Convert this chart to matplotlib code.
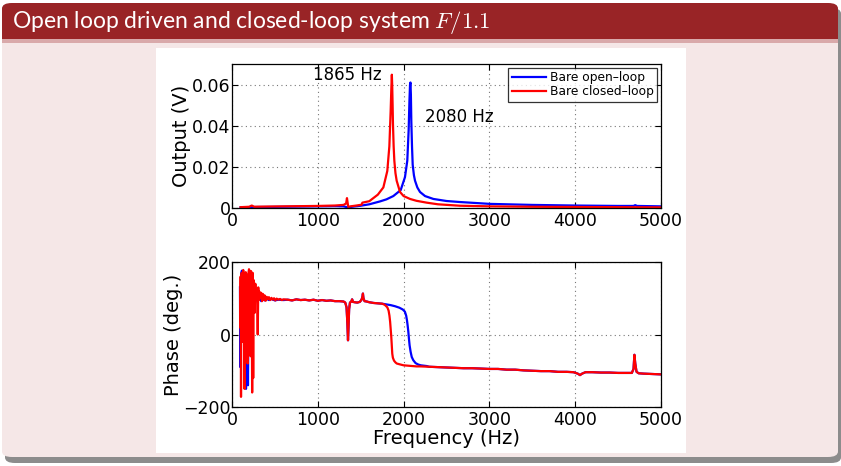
import numpy as np
import matplotlib
matplotlib.use('Agg')
import matplotlib.pyplot as plt
from matplotlib.patches import FancyBboxPatch, Rectangle

plt.rcParams['mathtext.fontset'] = 'cm'

# magnitude, open loop (blue)
f_mag_open = [100, 200, 300, 400, 600, 800, 1000, 1200, 1300, 1340,
              1360, 1400, 1500, 1600, 1725, 1800, 1880, 1966, 2016, 2043,
              2059, 2068, 2075, 2080, 2085, 2090, 2098, 2106, 2120, 2133,
              2160, 2191, 2250, 2347, 2500, 2657, 3007, 3500, 4000, 4500,
              4680, 4700, 4720, 5000]
mag_open = [0.0003, 0.0004, 0.0005, 0.0005, 0.0006, 0.0007, 0.0008, 0.0009, 0.0008, 0.0004,
            0.0003, 0.0006, 0.0011, 0.0018, 0.0032, 0.0042, 0.0058, 0.0087, 0.015, 0.023,
            0.038, 0.052, 0.060, 0.061, 0.055, 0.042, 0.030, 0.021, 0.016, 0.0133,
            0.0100, 0.0078, 0.0058, 0.0044, 0.0034, 0.0029, 0.0020, 0.0015, 0.0012, 0.0010,
            0.0010, 0.0014, 0.0010, 0.0008]

# magnitude, closed loop (red)
f_mag_closed = [100, 200, 230, 260, 400, 600, 800, 1000, 1200, 1300,
                1330, 1340, 1346, 1355, 1380, 1450, 1510, 1520, 1600, 1647,
                1700, 1764, 1810, 1834, 1849, 1857, 1863, 1867, 1872, 1876,
                1884, 1892, 1905, 1919, 1958, 2000, 2075, 2150, 2269, 2400,
                2657, 3000, 3500, 4000, 4500, 5000]
mag_closed = [0.0004, 0.0006, 0.0012, 0.0006, 0.0007, 0.0008, 0.0009, 0.0010, 0.0012, 0.0015,
              0.0022, 0.0048, 0.0030, 0.0005, 0.0008, 0.0012, 0.0016, 0.0026, 0.0033, 0.0048,
              0.0065, 0.010, 0.018, 0.030, 0.047, 0.058, 0.0648, 0.060, 0.050, 0.041,
              0.030, 0.023, 0.017, 0.0133, 0.0078, 0.0058, 0.0044, 0.0035, 0.0026, 0.0018,
              0.0011, 0.0008, 0.0006, 0.0005, 0.0004, 0.0003]

# phase, low frequency noisy part
f_low_open = [93, 97, 102, 108, 115, 122, 130, 138, 146, 155,
              163, 170, 178, 186, 195, 205, 215, 225, 235, 250,
              265, 280, 300, 320, 340, 360, 380, 400, 430, 460,
              500, 540, 600]
ph_low_open = [130, -90, 120, 170, 176, 174, 172, 170, 150, 120,
               -150, 100, 150, -140, 160, 130, 110, 150, 100, 140,
               95, 120, 90, 110, 92, 105, 94, 100, 95, 98,
               94, 96, 95]
f_low_closed = [97, 101, 105, 109, 113, 117, 121, 126, 131, 136,
                141, 146, 150, 155, 160, 165, 170, 176, 182, 187,
                192, 198, 204, 210, 216, 222, 228, 235, 241, 247,
                253, 259, 265, 272, 279, 286, 293, 300, 306, 312,
                320, 330, 340, 350, 360, 370, 380, 392, 405, 418,
                430, 445, 460, 475, 490, 505, 520, 540, 560, 580,
                600]
ph_low_closed = [20, 160, -172, 150, 170, 100, -20, 165, 178, 120,
                 40, -150, 80, 170, 172, 150, 60, 165, -80, 140,
                 170, 180, 175, 120, -60, 175, 160, -160, 170, -120,
                 150, 130, 60, 140, 100, 125, 110, 0, 130, 95,
                 118, 100, 115, 92, 112, 96, 108, 93, 104, 97,
                 103, 95, 101, 96, 100, 94, 99, 96, 98, 95,
                 97]

# phase, shared middle part
f_mid = [650, 700, 750, 800, 850, 900, 950, 1000, 1050, 1100,
         1150, 1200, 1250, 1300, 1320, 1335, 1345, 1352, 1358, 1365,
         1375, 1390, 1400, 1410, 1430, 1460, 1490, 1510, 1520, 1526,
         1532, 1545, 1570, 1600, 1650, 1700, 1750]
ph_mid = [96, 94, 97, 95, 96, 94, 96, 93, 95, 93,
          94, 92, 92, 91, 88, 75, 30, -16, 20, 70,
          88, 91, 97, 90, 89, 88, 90, 96, 104, 113,
          100, 92, 91, 89, 87, 86, 85]

# phase around the resonances
f_res_open = [1800, 1850, 1900, 1950, 1990, 2015, 2030, 2040, 2047, 2055,
              2062, 2070, 2082, 2095, 2113, 2140, 2172, 2200, 2269]
ph_res_open = [83, 81, 78, 74, 69, 63, 52, 38, 25, 8,
               -11, -30, -48, -62, -71, -79, -83, -85, -87]
f_res_closed = [1780, 1810, 1825, 1835, 1843, 1850, 1856, 1862, 1868, 1875,
                1888, 1905, 1920, 1950, 2000, 2050, 2100, 2150, 2200]
ph_res_closed = [82, 75, 66, 52, 35, 15, -5, -30, -53, -64,
                 -72, -77, -80, -82, -85, -86, -87, -88, -88]

# phase, shared high frequency tail
f_tail = [2300, 2400, 2500, 2600, 2700, 2800, 2900, 3000, 3100, 3200,
          3300, 3400, 3500, 3600, 3700, 3800, 3900, 3980, 4030, 4056,
          4080, 4120, 4200, 4300, 4400, 4500, 4600, 4660, 4680, 4690,
          4700, 4715, 4740, 4800, 4900, 5000]
ph_tail = [-89, -90, -91, -92, -93, -93, -94, -95, -95, -97,
           -97, -99, -100, -101, -101, -103, -103, -104, -108, -112,
           -108, -104, -104, -105, -105, -106, -106, -106, -95, -56,
           -80, -103, -107, -108, -109, -110]

fo = f_low_open + f_mid + f_res_open + f_tail
po = ph_low_open + ph_mid + ph_res_open + ph_tail
fc = f_low_closed + f_mid + f_res_closed + f_tail
pc = ph_low_closed + ph_mid + ph_res_closed + ph_tail

W, H = 841, 466
fig = plt.figure(figsize=(W / 100, H / 100), dpi=100)
fig.patch.set_facecolor('white')

def px(x, y, w, h):
    # pixel box (top-left origin) -> figure fraction
    return x / W, 1 - (y + h) / H, w / W, h / H

# block shadow, body and title bar
x, y, w, h = px(5, 8, 836, 455)
fig.patches.append(FancyBboxPatch((x, y), w, h, boxstyle='round,pad=0,rounding_size=0.012',
                                  transform=fig.transFigure, fc='#8c8c8c', ec='none', zorder=0))
x, y, w, h = px(2, 3, 836, 454)
fig.patches.append(FancyBboxPatch((x, y), w, h, boxstyle='round,pad=0,rounding_size=0.012',
                                  transform=fig.transFigure, fc='#f5e7e7', ec='none', zorder=1))
x, y, w, h = px(2, 3, 836, 38)
fig.patches.append(FancyBboxPatch((x, y), w, h, boxstyle='round,pad=0,rounding_size=0.012',
                                  transform=fig.transFigure, fc='#992426', ec='none', zorder=2))
x, y, w, h = px(2, 25, 836, 14)
fig.patches.append(Rectangle((x, y), w, h, transform=fig.transFigure, fc='#992426', ec='none', zorder=2))
x, y, w, h = px(2, 39, 836, 4)
fig.patches.append(Rectangle((x, y), w, h, transform=fig.transFigure, fc='#d9a9aa', ec='none', zorder=2))
x, y, w, h = px(156, 48, 530, 405)
fig.patches.append(Rectangle((x, y), w, h, transform=fig.transFigure, fc='white', ec='none', zorder=3))

fig.text(12 / W, 1 - 22 / H, 'Open loop driven and closed-loop system $F/1.1$',
         color='white', fontsize=16.5, family='Lato', va='center', ha='left')

ax1 = fig.add_axes(px(232, 64, 429, 144))
ax2 = fig.add_axes(px(232, 262, 429, 145))

ax1.plot(f_mag_open, mag_open, color='#0000ff', lw=1.6, label='Bare open\u2013loop')
ax1.plot(f_mag_closed, mag_closed, color='#ff0000', lw=1.6, label='Bare closed\u2013loop')
ax1.set_xlim(0, 5000)
ax1.set_ylim(0, 0.07)
ax1.set_yticks([0, 0.02, 0.04, 0.06])
ax1.set_yticklabels(['0', '0.02', '0.04', '0.06'])
ax1.set_ylabel('Output (V)', fontsize=14, labelpad=1)
ax1.text(1865, 0.0605, '1865 Hz  ', ha='right', va='bottom', fontsize=12)
ax1.text(2250, 0.040, '2080 Hz', ha='left', va='bottom', fontsize=12)
leg = ax1.legend(loc='upper right', fontsize=8.8, frameon=True, fancybox=False,
                 borderaxespad=0.3, handlelength=2.8, handletextpad=0.3,
                 labelspacing=0.05, borderpad=0.3)
leg.get_frame().set_edgecolor('black')
leg.get_frame().set_linewidth(0.9)

ax2.plot(fo, po, color='#0000ff', lw=1.6)
ax2.plot(fc, pc, color='#ff0000', lw=1.6)
ax2.set_xlim(0, 5000)
ax2.set_ylim(-200, 200)
ax2.set_yticks([-200, 0, 200])
ax2.set_yticklabels(['\u2212200', '0', '200'])
ax2.set_ylabel('Phase (deg.)', fontsize=14, labelpad=0)
ax2.set_xlabel('Frequency (Hz)', fontsize=14, labelpad=0)

for ax in (ax1, ax2):
    ax.set_xticks([0, 1000, 2000, 3000, 4000, 5000])
    ax.grid(True, color='#777777', ls=(0, (1, 3)), lw=0.8)
    ax.tick_params(direction='in', labelsize=12.5, length=4, top=True, right=True, pad=1)
    ax.tick_params(axis='x', pad=3)
    for s in ax.spines.values():
        s.set_linewidth(0.9)
    ax.set_zorder(4)

fig.savefig('out.png', dpi=100)
